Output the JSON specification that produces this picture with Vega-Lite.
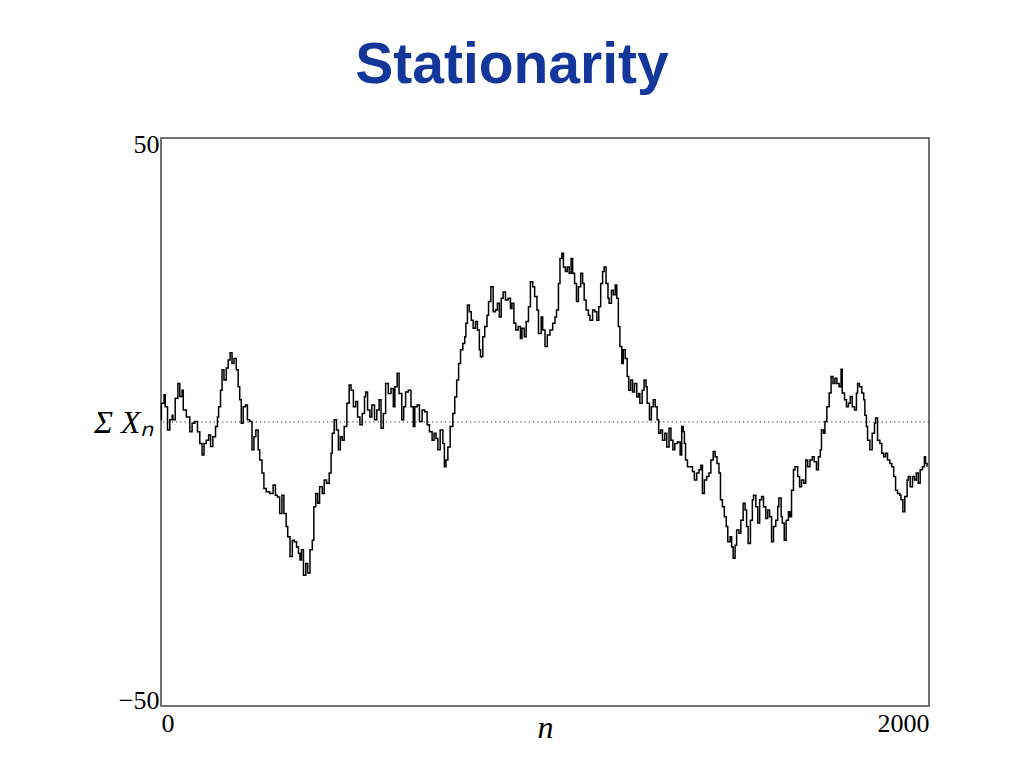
{
  "$schema": "https://vega.github.io/schema/vega-lite/v6.json",
  "width": 768,
  "height": 568,
  "autosize": "none",
  "padding": {"left": 161, "top": 138, "right": 95, "bottom": 62},
  "background": "white",
  "title": {
    "text": "Stationarity",
    "font": "Liberation Sans Narrow, Arial Narrow, Liberation Sans",
    "fontSize": 57,
    "fontWeight": "bold",
    "color": "#12369a",
    "anchor": "middle",
    "dx": -33,
    "offset": 36
  },
  "config": {
    "view": {"stroke": "#444", "strokeWidth": 1.5},
    "axis": {
      "labelFont": "Liberation Serif",
      "labelFontSize": 26,
      "labelColor": "#000",
      "titleFont": "Liberation Serif",
      "titleColor": "#000",
      "titleFontWeight": "normal",
      "ticks": false,
      "domain": false,
      "grid": false,
      "labelFlush": true
    }
  },
  "layer": [
    {
      "data": {"values": [{"v": 0}]},
      "mark": {"type": "rule", "color": "#333", "strokeWidth": 1, "strokeDash": [1.2, 3]},
      "encoding": {"y": {"field": "v", "type": "quantitative", "scale": {"domain": [-50, 50], "nice": false}}}
    },
    {
      "data": {"values": [
        {"n":0,"v":0.4},{"n":1,"v":3.3},{"n":8,"v":4.8},{"n":11,"v":2.7},{"n":17,"v":-1.4},{"n":23,"v":0.4},{"n":29,"v":1.2},{"n":31,"v":0.4},{"n":37,"v":4.2},{"n":44,"v":6.8},{"n":49,"v":4.5},{"n":55,"v":5.6},{"n":58,"v":2.1},{"n":66,"v":0.9},{"n":75,"v":-1.7},{"n":81,"v":-0.2},{"n":88,"v":0.1},{"n":95,"v":-1.7},{"n":101,"v":-3.8},{"n":107,"v":-5.8},{"n":112,"v":-3.8},{"n":118,"v":-3.2},{"n":124,"v":-2.3},{"n":129,"v":-4.3},{"n":135,"v":-2.6},{"n":142,"v":-0.8},{"n":147,"v":0.9},{"n":150,"v":2.7},{"n":155,"v":5.6},{"n":159,"v":9.2},{"n":164,"v":7.4},{"n":170,"v":9.5},{"n":175,"v":10.9},{"n":180,"v":12.2},{"n":185,"v":10.3},{"n":190,"v":11.2},{"n":196,"v":9.2},{"n":201,"v":6.2},{"n":205,"v":3.9},{"n":209,"v":-0.2},{"n":214,"v":2.7},{"n":220,"v":3.0},{"n":225,"v":0.4},{"n":231,"v":0.1},{"n":237,"v":-4.9},{"n":242,"v":-2.6},{"n":247,"v":-1.4},{"n":253,"v":-4.9},{"n":257,"v":-6.7},{"n":263,"v":-9.0},{"n":268,"v":-11.7},{"n":274,"v":-12.3},{"n":283,"v":-12.6},{"n":292,"v":-11.1},{"n":298,"v":-12.9},{"n":303,"v":-13.2},{"n":309,"v":-16.1},{"n":315,"v":-12.9},{"n":320,"v":-16.1},{"n":326,"v":-18.4},
        {"n":330,"v":-20.2},{"n":336,"v":-23.7},{"n":342,"v":-20.8},{"n":347,"v":-21.1},{"n":353,"v":-22.0},{"n":358,"v":-23.1},{"n":362,"v":-24.3},{"n":366,"v":-22.5},{"n":371,"v":-27.0},{"n":377,"v":-24.9},{"n":382,"v":-26.6},{"n":388,"v":-22.5},{"n":394,"v":-20.8},{"n":398,"v":-14.9},{"n":403,"v":-12.6},{"n":408,"v":-14.3},{"n":413,"v":-11.4},{"n":420,"v":-12.6},{"n":425,"v":-10.2},{"n":431,"v":-10.8},{"n":438,"v":-9.0},{"n":443,"v":-5.5},{"n":446,"v":-2.0},{"n":451,"v":0.4},{"n":457,"v":-1.4},{"n":462,"v":-4.9},{"n":467,"v":-2.6},{"n":472,"v":-3.2},{"n":477,"v":-0.8},{"n":484,"v":3.3},{"n":490,"v":6.5},{"n":495,"v":5.6},{"n":501,"v":2.7},{"n":507,"v":3.6},{"n":512,"v":0.9},{"n":518,"v":-0.5},{"n":524,"v":1.5},{"n":530,"v":4.5},{"n":533,"v":5.3},{"n":538,"v":2.1},{"n":544,"v":0.9},{"n":549,"v":3.0},{"n":556,"v":0.4},{"n":562,"v":2.1},{"n":568,"v":3.9},{"n":573,"v":-1.1},{"n":579,"v":1.5},{"n":585,"v":6.8},{"n":592,"v":5.0},{"n":599,"v":5.9},{"n":605,"v":2.7},{"n":609,"v":6.2},{"n":615,"v":8.6},{"n":620,"v":5.0},{"n":627,"v":0.4},{"n":632,"v":2.7},{"n":637,"v":5.3},{"n":644,"v":5.6},{"n":651,"v":2.7},
        {"n":657,"v":-0.8},{"n":661,"v":2.7},{"n":667,"v":3.0},{"n":673,"v":0.1},{"n":680,"v":2.1},{"n":687,"v":1.8},{"n":693,"v":-0.5},{"n":699,"v":-1.7},{"n":706,"v":-3.2},{"n":711,"v":-2.0},{"n":716,"v":-2.9},{"n":721,"v":-4.9},{"n":727,"v":-1.4},{"n":734,"v":-3.8},{"n":738,"v":-7.9},{"n":742,"v":-6.7},{"n":747,"v":-4.4},{"n":753,"v":-0.8},{"n":760,"v":1.5},{"n":765,"v":4.4},{"n":770,"v":7.4},{"n":775,"v":10.3},{"n":780,"v":12.7},{"n":786,"v":13.8},{"n":791,"v":15.0},{"n":794,"v":17.4},{"n":798,"v":20.6},{"n":803,"v":19.4},{"n":808,"v":17.9},{"n":813,"v":16.5},{"n":819,"v":17.7},{"n":824,"v":16.2},{"n":829,"v":12.7},{"n":832,"v":11.5},{"n":838,"v":15.0},{"n":843,"v":16.8},{"n":849,"v":18.8},{"n":853,"v":21.2},{"n":859,"v":23.8},{"n":865,"v":19.4},{"n":871,"v":19.7},{"n":876,"v":20.9},{"n":881,"v":18.5},{"n":886,"v":21.8},{"n":891,"v":22.9},{"n":897,"v":21.5},{"n":904,"v":21.8},{"n":910,"v":20.0},{"n":914,"v":20.9},{"n":919,"v":17.4},{"n":924,"v":16.2},{"n":930,"v":16.8},{"n":936,"v":14.7},{"n":940,"v":16.5},{"n":946,"v":15.0},{"n":951,"v":17.7},{"n":957,"v":20.3},{"n":962,"v":24.7},{"n":968,"v":23.8},{"n":973,"v":22.1},{"n":979,"v":19.7},{"n":983,"v":15.6},{"n":990,"v":18.5},
        {"n":994,"v":16.2},{"n":1000,"v":13.3},{"n":1006,"v":15.3},{"n":1013,"v":16.2},{"n":1020,"v":17.4},{"n":1026,"v":18.5},{"n":1030,"v":19.7},{"n":1035,"v":24.4},{"n":1039,"v":28.8},{"n":1044,"v":29.7},{"n":1048,"v":27.3},{"n":1053,"v":26.5},{"n":1058,"v":27.3},{"n":1063,"v":26.2},{"n":1068,"v":28.8},{"n":1072,"v":26.2},{"n":1077,"v":24.4},{"n":1082,"v":21.2},{"n":1087,"v":23.8},{"n":1093,"v":26.2},{"n":1098,"v":24.4},{"n":1102,"v":21.5},{"n":1107,"v":19.7},{"n":1113,"v":18.8},{"n":1117,"v":17.9},{"n":1124,"v":19.7},{"n":1130,"v":19.4},{"n":1135,"v":17.9},{"n":1140,"v":20.3},{"n":1145,"v":24.4},{"n":1150,"v":26.5},{"n":1154,"v":27.3},{"n":1159,"v":24.4},{"n":1164,"v":21.8},{"n":1167,"v":20.9},{"n":1173,"v":23.2},{"n":1178,"v":22.4},{"n":1183,"v":24.1},{"n":1187,"v":21.8},{"n":1191,"v":16.8},{"n":1195,"v":13.3},{"n":1200,"v":10.3},{"n":1204,"v":12.7},{"n":1209,"v":11.2},{"n":1214,"v":8.0},{"n":1218,"v":5.6},{"n":1223,"v":7.4},{"n":1228,"v":5.3},{"n":1233,"v":6.8},{"n":1239,"v":4.4},{"n":1244,"v":5.0},{"n":1247,"v":3.3},{"n":1253,"v":5.6},{"n":1258,"v":7.4},{"n":1263,"v":6.2},{"n":1266,"v":3.3},{"n":1272,"v":0.4},{"n":1277,"v":2.7},{"n":1282,"v":3.9},{"n":1287,"v":2.7},{"n":1292,"v":0.4},{"n":1296,"v":-2.0},{"n":1301,"v":-1.4},{"n":1306,"v":-3.2},{"n":1312,"v":-2.0},{"n":1317,"v":-4.4},
        {"n":1323,"v":-1.1},{"n":1328,"v":-3.2},{"n":1333,"v":-4.9},{"n":1338,"v":-3.8},{"n":1345,"v":-3.5},{"n":1352,"v":-5.8},{"n":1356,"v":-0.8},{"n":1360,"v":-1.7},{"n":1363,"v":-3.8},{"n":1366,"v":-6.7},{"n":1371,"v":-7.9},{"n":1378,"v":-7.9},{"n":1384,"v":-8.7},{"n":1389,"v":-10.2},{"n":1395,"v":-9.0},{"n":1401,"v":-8.4},{"n":1406,"v":-7.6},{"n":1410,"v":-12.6},{"n":1415,"v":-10.2},{"n":1421,"v":-9.6},{"n":1427,"v":-9.0},{"n":1432,"v":-6.7},{"n":1438,"v":-5.2},{"n":1443,"v":-6.1},{"n":1448,"v":-7.3},{"n":1453,"v":-9.0},{"n":1457,"v":-13.7},{"n":1462,"v":-14.9},{"n":1467,"v":-16.7},{"n":1472,"v":-18.4},{"n":1476,"v":-21.1},{"n":1482,"v":-20.2},{"n":1486,"v":-22.0},{"n":1490,"v":-24.0},{"n":1495,"v":-21.7},{"n":1499,"v":-19.0},{"n":1505,"v":-19.6},{"n":1510,"v":-17.3},{"n":1516,"v":-14.3},{"n":1521,"v":-15.5},{"n":1525,"v":-18.4},{"n":1529,"v":-21.4},{"n":1535,"v":-17.3},{"n":1540,"v":-13.7},{"n":1543,"v":-12.9},{"n":1549,"v":-14.9},{"n":1554,"v":-17.8},{"n":1559,"v":-13.7},{"n":1564,"v":-13.1},{"n":1569,"v":-14.9},{"n":1575,"v":-17.0},{"n":1580,"v":-15.5},{"n":1585,"v":-16.7},{"n":1590,"v":-21.1},{"n":1595,"v":-18.4},{"n":1601,"v":-17.3},{"n":1606,"v":-14.9},{"n":1609,"v":-13.4},{"n":1615,"v":-16.7},{"n":1618,"v":-17.8},{"n":1623,"v":-20.8},{"n":1628,"v":-17.3},{"n":1634,"v":-15.8},{"n":1638,"v":-16.7},{"n":1642,"v":-12.0},{"n":1647,"v":-8.4},{"n":1651,"v":-7.9},
        {"n":1658,"v":-9.6},{"n":1663,"v":-11.4},{"n":1668,"v":-10.2},{"n":1674,"v":-10.8},{"n":1679,"v":-6.7},{"n":1684,"v":-7.9},{"n":1690,"v":-6.7},{"n":1696,"v":-6.1},{"n":1701,"v":-7.0},{"n":1707,"v":-8.4},{"n":1712,"v":-6.1},{"n":1717,"v":-4.9},{"n":1720,"v":-1.4},{"n":1725,"v":-2.0},{"n":1729,"v":0.1},{"n":1734,"v":2.7},{"n":1740,"v":5.1},{"n":1745,"v":8.0},{"n":1750,"v":6.8},{"n":1755,"v":7.7},{"n":1760,"v":6.8},{"n":1766,"v":6.2},{"n":1771,"v":9.3},{"n":1774,"v":5.1},{"n":1780,"v":3.9},{"n":1785,"v":2.7},{"n":1790,"v":3.3},{"n":1795,"v":4.5},{"n":1800,"v":2.7},{"n":1806,"v":2.1},{"n":1811,"v":5.1},{"n":1814,"v":6.8},{"n":1819,"v":6.2},{"n":1825,"v":5.1},{"n":1830,"v":3.9},{"n":1833,"v":1.2},{"n":1837,"v":-0.8},{"n":1840,"v":-3.2},{"n":1846,"v":-4.9},{"n":1852,"v":-2.0},{"n":1858,"v":-0.2},{"n":1861,"v":0.7},{"n":1866,"v":-3.2},{"n":1872,"v":-3.8},{"n":1877,"v":-5.5},{"n":1882,"v":-6.1},{"n":1887,"v":-5.5},{"n":1892,"v":-6.7},{"n":1898,"v":-7.3},{"n":1903,"v":-7.9},{"n":1908,"v":-9.6},{"n":1913,"v":-12.0},{"n":1918,"v":-12.6},{"n":1924,"v":-12.9},{"n":1927,"v":-13.7},{"n":1932,"v":-15.8},{"n":1937,"v":-13.1},{"n":1943,"v":-10.2},{"n":1946,"v":-9.6},{"n":1951,"v":-11.4},{"n":1957,"v":-9.6},{"n":1962,"v":-10.2},{"n":1967,"v":-9.0},{"n":1972,"v":-10.8},{"n":1977,"v":-8.4},{"n":1983,"v":-7.9},{"n":1988,"v":-6.1},{"n":1991,"v":-7.3},{"n":1995,"v":-7.9}
      ]},
      "mark": {"type": "line", "color": "#000", "strokeWidth": 1.5, "interpolate": "step-after"},
      "encoding": {
        "x": {
          "field": "n", "type": "quantitative",
          "scale": {"domain": [0, 2000], "nice": false, "zero": false},
          "axis": {"values": [0, 2000], "format": "d", "labelPadding": 4, "title": "n", "titleFontStyle": "italic", "titleFontSize": 32, "titleBaseline": "alphabetic", "titleY": 31}
        },
        "y": {
          "field": "v", "type": "quantitative",
          "scale": {"domain": [-50, 50], "nice": false},
          "axis": {"values": [-50, 50], "format": "d", "labelPadding": 2, "labelFlushOffset": 7, "title": "Σ Xₙ", "titleAngle": 0, "titleFontStyle": "italic", "titleFontSize": 32, "titleAlign": "right", "titleBaseline": "middle", "titleX": -8, "titleY": 284}
        }
      }
    }
  ]
}
